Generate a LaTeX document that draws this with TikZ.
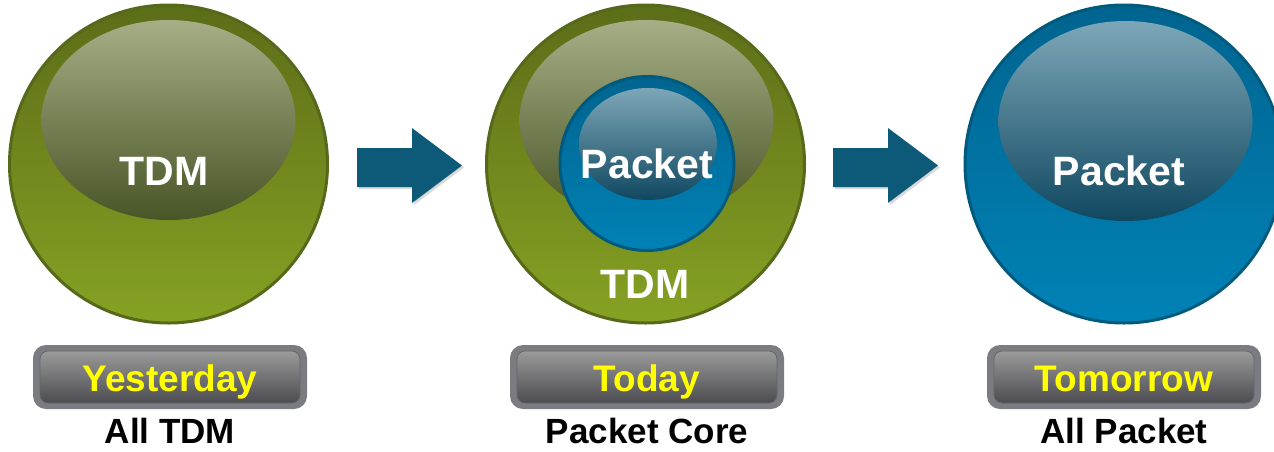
\documentclass[tikz,border=0pt]{standalone}
\usepackage{fontspec}
\setmainfont{Liberation Sans}
\definecolor{grnline}{HTML}{56681A}
\definecolor{grntop}{HTML}{5B6D18}
\definecolor{grnbot}{HTML}{86A223}
\definecolor{grnhitop}{HTML}{A6AE86}
\definecolor{grnhibot}{HTML}{485526}
\definecolor{blueline}{HTML}{005A7E}
\definecolor{bluetop}{HTML}{00648F}
\definecolor{bluebot}{HTML}{0082B6}
\definecolor{bluehitop}{HTML}{7DA7B8}
\definecolor{bluehibot}{HTML}{104860}
\definecolor{arrowcol}{HTML}{0D5A78}
\definecolor{boxrim}{HTML}{7B7B82}
\definecolor{boxtop}{HTML}{9A9A9A}
\definecolor{boxmid}{HTML}{58585C}
\definecolor{boxbot}{HTML}{4C4C51}
\definecolor{labyellow}{HTML}{FFFF00}
\tikzset{
  bigtext/.style={text=white, font=\bfseries\fontsize{41}{41}\selectfont, inner sep=0pt, anchor=base},
  boxtext/.style={text=labyellow, font=\bfseries\fontsize{37}{37}\selectfont, inner sep=0pt, anchor=base},
  captext/.style={text=black, font=\bfseries\fontsize{35}{35}\selectfont, inner sep=0pt, anchor=base},
  greenball/.style={circle, minimum size=318pt, inner sep=0pt, draw=grnline, line width=3pt, top color=grntop, bottom color=grnbot},
  blueball/.style={circle, minimum size=318pt, inner sep=0pt, draw=blueline, line width=3pt, top color=bluetop, bottom color=bluebot},
  smallblue/.style={circle, minimum size=174pt, inner sep=0pt, draw=blueline, line width=3pt, top color=bluetop, bottom color=bluebot},
  arrowfill/.style={fill=arrowcol},
  arrowshadow/.style={fill=black, opacity=0.15},
  boxrimstyle/.style={rectangle, rounded corners=13pt, fill=boxrim, minimum width=274pt, minimum height=64pt, inner sep=0pt},
  boxinner/.style={rectangle, rounded corners=8pt, top color=boxtop, middle color=boxmid, bottom color=boxbot, minimum width=260pt, minimum height=52pt, inner sep=0pt, draw=black!60, line width=0.8pt},
}
\begin{document}
\begin{tikzpicture}[x=1pt,y=-1pt]
\useasboundingbox (0,0) rectangle (1274,451);
\clip (0,0) rectangle (1274,451);

% Yesterday
\node[greenball] (c1) at (168.5,164) {};
\shade[top color=grnhitop, bottom color=grnhibot] (168.5,120) ellipse (127 and 100);
\node[bigtext] (t1) at (164,185) {TDM};

% Today
\node[greenball] (c2) at (645.5,164) {};
\shade[top color=grnhitop, bottom color=grnhibot] (646.5,120) ellipse (127 and 100);
\node[smallblue] (c2b) at (647,163.5) {};
\shade[top color=bluehitop, bottom color=bluehibot] (648,144) ellipse (69 and 56);
\node[bigtext] (t2) at (647,178) {Packet};
\node[bigtext] (t2b) at (645,298) {TDM};

% Tomorrow
\node[blueball] (c3) at (1124,164) {};
\shade[top color=bluehitop, bottom color=bluehibot] (1125.5,121) ellipse (127 and 100);
\node[bigtext] (t3) at (1119,185) {Packet};

% Arrows
\foreach \dx/\nm in {0/a1, 476/a2} {
  \begin{scope}[xshift=\dx]
    \fill[arrowshadow] (359,150) -- (414,150) -- (414,130) -- (464,167.5) -- (414,205) -- (414,189) -- (359,189) -- cycle;
    \fill[arrowfill] (357,148) -- (412,148) -- (412,128) -- (462,165.5) -- (412,203) -- (412,187) -- (357,187) -- cycle;
    \coordinate (\nm) at (410,165.5);
  \end{scope}
}

% Label boxes
\node[boxrimstyle] (b1) at (170,377) {};
\node[boxinner] (b1i) at (b1) {};
\node[boxtext] at (170,391) {Yesterday};
\node[boxrimstyle] (b2) at (647,377) {};
\node[boxinner] (b2i) at (b2) {};
\node[boxtext] at (647,391) {Today};
\node[boxrimstyle] (b3) at (1124,377) {};
\node[boxinner] (b3i) at (b3) {};
\node[boxtext] at (1124,391) {Tomorrow};

% Captions
\node[captext] (l1) at (170,443) {All TDM};
\node[captext] (l2) at (647,443) {Packet Core};
\node[captext] (l3) at (1124,443) {All Packet};
\end{tikzpicture}
\end{document}
